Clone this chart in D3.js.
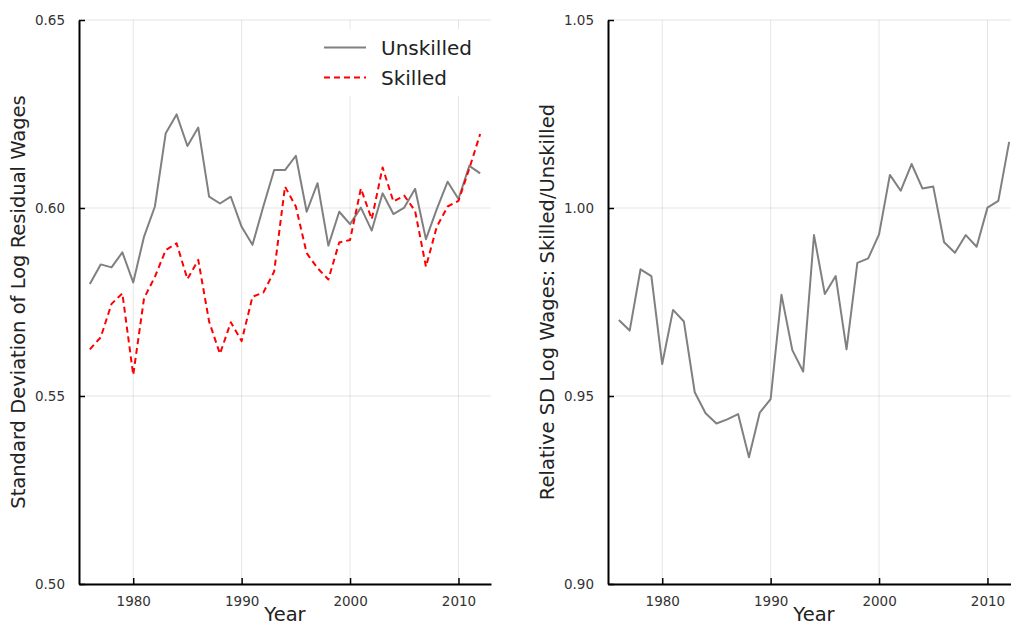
<!DOCTYPE html>
<html>
<head>
<meta charset="utf-8">
<script src="https://cdn.jsdelivr.net/npm/d3@7"></script>
<style>
  html, body { margin: 0; padding: 0; background: #fff; }
  svg { display: block; font-family: "DejaVu Sans", sans-serif; }
</style>
</head>
<body>
<svg id="chart" width="1011" height="626"></svg>
<script>
// ---- data ----
const years = d3.range(1976, 2013);
const unskilled = [0.5798, 0.5850, 0.5842, 0.5882, 0.5802, 0.5924, 0.6004, 0.6199, 0.6249, 0.6165,
  0.6214, 0.6030, 0.6012, 0.6030, 0.5950, 0.5902, 0.6004, 0.6101, 0.6101, 0.6139,
  0.5990, 0.6066, 0.5900, 0.5990, 0.5957, 0.6001, 0.5940, 0.6039, 0.5984, 0.6001,
  0.6051, 0.5917, 0.5997, 0.6070, 0.6024, 0.6112, 0.6092];
const skilled = [0.5624, 0.5656, 0.5745, 0.5773, 0.5556, 0.5760, 0.5817, 0.5888, 0.5906, 0.5811,
  0.5862, 0.5698, 0.5612, 0.5696, 0.5646, 0.5764, 0.5775, 0.5831, 0.6057, 0.6004,
  0.5880, 0.5840, 0.5810, 0.5908, 0.5915, 0.6052, 0.5970, 0.6108, 0.6017, 0.6033,
  0.5992, 0.5844, 0.5950, 0.6004, 0.6019, 0.6105, 0.6197];
const relative = [0.9702, 0.9674, 0.9837, 0.9819, 0.9585, 0.9729, 0.9698, 0.9510, 0.9454, 0.9427,
  0.9438, 0.9452, 0.9337, 0.9456, 0.9492, 0.9769, 0.9622, 0.9565, 0.9928, 0.9771,
  0.9819, 0.9624, 0.9854, 0.9866, 0.9930, 1.0088, 1.0046, 1.0117, 1.0052, 1.0057,
  0.9909, 0.9881, 0.9928, 0.9897, 1.0001, 1.0019, 1.0176];
const xTicks = [1980, 1990, 2000, 2010];
const yTicksLeft = [0.50, 0.55, 0.60, 0.65];
const yTicksRight = [0.90, 0.95, 1.00, 1.05];
const legendLabels = ["Unskilled", "Skilled"];

const svg = d3.select("#chart");
const plotTop = 20, plotBottom = 584;
const GRAY = "#808080", RED = "#ff0000";

function panel(opts) {
  const x = d3.scaleLinear().domain([1975, 2013]).range([opts.left, opts.left + 412]);
  const y = d3.scaleLinear().domain(opts.yDomain).range([plotBottom, plotTop]);
  const g = svg.append("g");

  // grid
  g.append("g").selectAll("line").data(xTicks).join("line")
    .attr("x1", d => x(d)).attr("x2", d => x(d))
    .attr("y1", plotTop).attr("y2", plotBottom)
    .attr("stroke", "#000").attr("stroke-opacity", 0.1).attr("stroke-width", 1);
  g.append("g").selectAll("line").data(opts.yTicks).join("line")
    .attr("x1", opts.left).attr("x2", opts.left + 412)
    .attr("y1", d => y(d)).attr("y2", d => y(d))
    .attr("stroke", "#000").attr("stroke-opacity", 0.1).attr("stroke-width", 1);

  if (opts.legend) {
    g.append("rect").attr("x", 312).attr("y", 29).attr("width", 178).attr("height", 67)
      .attr("fill", "#fff");
  }

  const line = vals => d3.line().x((d, i) => x(years[i])).y(d => y(d))(vals);
  opts.series.forEach(s => {
    g.append("path").attr("d", line(s.values))
      .attr("fill", "none").attr("stroke", s.color).attr("stroke-width", 2)
      .attr("stroke-dasharray", s.dash || null)
      .attr("stroke-linejoin", "round");
  });

  const xAxis = d3.axisBottom(x).tickValues(xTicks).tickFormat(d3.format("d"))
    .tickSizeInner(-6).tickSizeOuter(0).tickPadding(12);
  const ax = g.append("g").attr("transform", `translate(0,${plotBottom})`).call(xAxis);
  const yAxis = d3.axisLeft(y).tickValues(opts.yTicks).tickFormat(d3.format(".2f"))
    .tickSizeInner(-6).tickSizeOuter(0).tickPadding(14);
  const ay = g.append("g").attr("transform", `translate(${opts.left},0)`).call(yAxis);
  [ax, ay].forEach(a => {
    a.select(".domain").attr("stroke", "#000").attr("stroke-width", 2);
    a.selectAll(".tick line").attr("stroke", "#000").attr("stroke-width", 1.5);
    a.selectAll(".tick text").attr("fill", "#333").attr("font-size", 13.5)
      .attr("font-family", "DejaVu Sans");
  });

  g.append("text").attr("x", opts.left + 206).attr("y", 621)
    .attr("text-anchor", "middle").attr("font-size", 19.5).attr("fill", "#222")
    .text("Year");
  g.append("text")
    .attr("transform", `translate(${opts.left - 54},302) rotate(-90)`)
    .attr("text-anchor", "middle").attr("font-size", 19.5).attr("fill", "#222")
    .text(opts.ylabel);

  if (opts.legend) {
    const lg = g.append("g");
    opts.series.forEach((s, i) => {
      const yy = 47.5 + i * 30;
      lg.append("line").attr("x1", 324).attr("x2", 366).attr("y1", yy).attr("y2", yy)
        .attr("stroke", s.color).attr("stroke-width", 2).attr("stroke-dasharray", s.dash || null);
      lg.append("text").attr("x", 381).attr("y", yy + 7).attr("font-size", 20)
        .attr("fill", "#222").text(legendLabels[i]);
    });
  }
}

panel({
  left: 79, yDomain: [0.5, 0.65], yTicks: yTicksLeft,
  ylabel: "Standard Deviation of Log Residual Wages",
  series: [
    { values: unskilled, color: GRAY },
    { values: skilled, color: RED, dash: "6,4" }
  ],
  legend: true
});
panel({
  left: 608, yDomain: [0.9, 1.05], yTicks: yTicksRight,
  ylabel: "Relative SD Log Wages: Skilled/Unskilled",
  series: [ { values: relative, color: GRAY } ],
  legend: false
});
</script>
</body>
</html>
